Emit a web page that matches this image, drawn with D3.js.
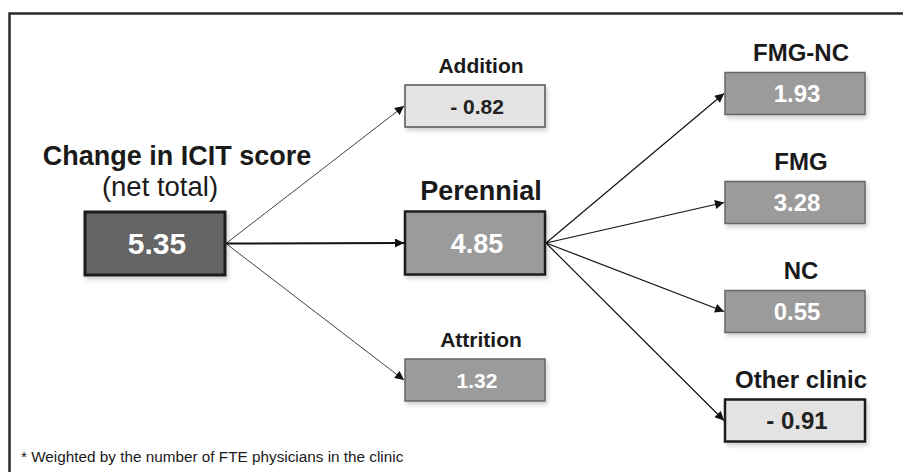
<!DOCTYPE html>
<html>
<head>
<meta charset="utf-8">
<script src="https://cdn.jsdelivr.net/npm/d3@7"></script>
<style>
  body { margin: 0; background: #fff; overflow: hidden; }
  text { font-family: "Liberation Sans", Arial, sans-serif; }
</style>
</head>
<body>
<script>
	// chart data
	var totalLabel = "Change in ICIT score";
	var totalSub = "(net total)";
	var totalValue = "5.35";

	var groupNames = ["Addition", "Perennial", "Attrition"];
	var groupValues = ["- 0.82", "4.85", "1.32"];
	var groupShade = ["light", "mid", "mid"];

	var subNames = ["FMG-NC", "FMG", "NC", "Other clinic"];
	var subValues = ["1.93", "3.28", "0.55", "- 0.91"];
	var subShade = ["mid", "mid", "mid", "light"];

	var footnote = "* Weighted by the number of FTE physicians in the clinic";

	var svg_w = 903, svg_h = 472;
	var svg = d3.select("body").append("svg")
		.attr("width", svg_w)
		.attr("height", svg_h)
		.style("display", "block");

	// soft shadow for boxes
	var defs = svg.append("defs");
	var f = defs.append("filter").attr("id", "shadow")
		.attr("x", "-10%").attr("y", "-20%").attr("width", "130%").attr("height", "160%");
	f.append("feDropShadow").attr("dx", 2).attr("dy", 3).attr("stdDeviation", 2)
		.attr("flood-color", "#000").attr("flood-opacity", 0.18);

	defs.append("marker").attr("id", "arrow")
		.attr("viewBox", "0 0 10 10").attr("refX", 10).attr("refY", 5)
		.attr("markerUnits", "userSpaceOnUse")
		.attr("markerWidth", 11).attr("markerHeight", 9)
		.attr("orient", "auto")
		.append("path").attr("d", "M0,0 L10,5 L0,10 z").attr("fill", "#111");

	// outer frame (runs off the right and bottom edges)
	svg.append("rect")
		.attr("x", 9.5).attr("y", 13.5)
		.attr("width", 1000).attr("height", 600)
		.attr("fill", "none").attr("stroke", "#2a2a2a").attr("stroke-width", 2.5);

	// layout scales
	var colX = d3.scalePoint().domain([0, 1, 2]).range([155, 795]);
	var groupY = d3.scalePoint().domain(groupNames).range([106, 380]);
	var subY = d3.scalePoint().domain(subNames).range([93.5, 420.5]);

	var bw = 140, bigH = 63, smallH = 42;

	var styles = {
		dark:  { fill: "#656565", stroke: "#1e1e1e", sw: 3,   text: "#fff" },
		mid:   { fill: "#9b9b9b", stroke: "#666",    sw: 1.5, text: "#fff" },
		light: { fill: "#e3e3e3", stroke: "#555",    sw: 1.5, text: "#222" }
	};

	var root = { name: totalLabel, value: totalValue, shade: "dark", x: colX(0), y: 243.5, h: bigH, size: 30 };

	var groups = groupNames.map(function(n, i) {
		var big = n == "Perennial";
		return { name: n, value: groupValues[i], shade: groupShade[i],
			x: colX(1), y: groupY(n), h: big ? bigH : smallH,
			size: big ? 27 : 21, titleSize: big ? 27 : 21, heavy: big };
	});

	var subs = subNames.map(function(n, i) {
		return { name: n, value: subValues[i], shade: subShade[i],
			x: colX(2), y: subY(n), h: smallH, size: 24, titleSize: 24,
			heavy: n == "Other clinic" };
	});

	var perennial = groups.find(function(d) { return d.name == "Perennial"; });

	// links
	var links = [];
	groups.forEach(function(g) { links.push({ s: root, t: g, w: g.heavy ? 2 : 0.8 }); });
	subs.forEach(function(c) { links.push({ s: perennial, t: c, w: 1.2 }); });

	svg.append("g").selectAll("line")
		.data(links)
		.enter()
		.append("line")
		.attr("x1", d => d.s.x + bw / 2 + 1)
		.attr("y1", d => d.s.y)
		.attr("x2", d => d.t.x - bw / 2 - 1)
		.attr("y2", d => d.t.y)
		.attr("stroke", "#111")
		.attr("stroke-width", d => d.w)
		.attr("marker-end", "url(#arrow)");

	// boxes
	var all = [root].concat(groups, subs);
	all.forEach(function(d) {
		var st = styles[d.shade];
		var sw = d.heavy ? 2.5 : st.sw;
		var strokeCol = d.heavy ? "#1e1e1e" : st.stroke;
		svg.append("rect")
			.attr("x", d.x - bw / 2).attr("y", d.y - d.h / 2)
			.attr("width", bw).attr("height", d.h)
			.attr("fill", st.fill)
			.attr("stroke", strokeCol)
			.attr("stroke-width", sw)
			.attr("filter", "url(#shadow)");

		svg.append("text")
			.attr("x", d.x + 2)
			.attr("y", d.y + d.size * 0.36)
			.attr("text-anchor", "middle")
			.attr("font-weight", "bold")
			.attr("font-size", d.size)
			.attr("fill", st.text)
			.text(d.value);

		if (d !== root) {
			svg.append("text")
				.attr("x", d.x + 6)
				.attr("y", d.y - d.h / 2 - 12)
				.attr("text-anchor", "middle")
				.attr("font-weight", "bold")
				.attr("font-size", d.titleSize)
				.attr("fill", "#1a1a1a")
				.text(d.name);
		}
	});

	// root titles
	svg.append("text")
		.attr("x", root.x + 22).attr("y", 165)
		.attr("text-anchor", "middle")
		.attr("font-weight", "bold").attr("font-size", 27)
		.attr("fill", "#1a1a1a")
		.text(root.name);

	svg.append("text")
		.attr("x", root.x + 5).attr("y", 196)
		.attr("text-anchor", "middle")
		.attr("font-size", 27.5)
		.attr("fill", "#1a1a1a")
		.text(totalSub);

	svg.append("text")
		.attr("x", 21).attr("y", 462)
		.attr("font-size", 15.3)
		.attr("fill", "#1a1a1a")
		.text(footnote);
</script>
</body>
</html>
